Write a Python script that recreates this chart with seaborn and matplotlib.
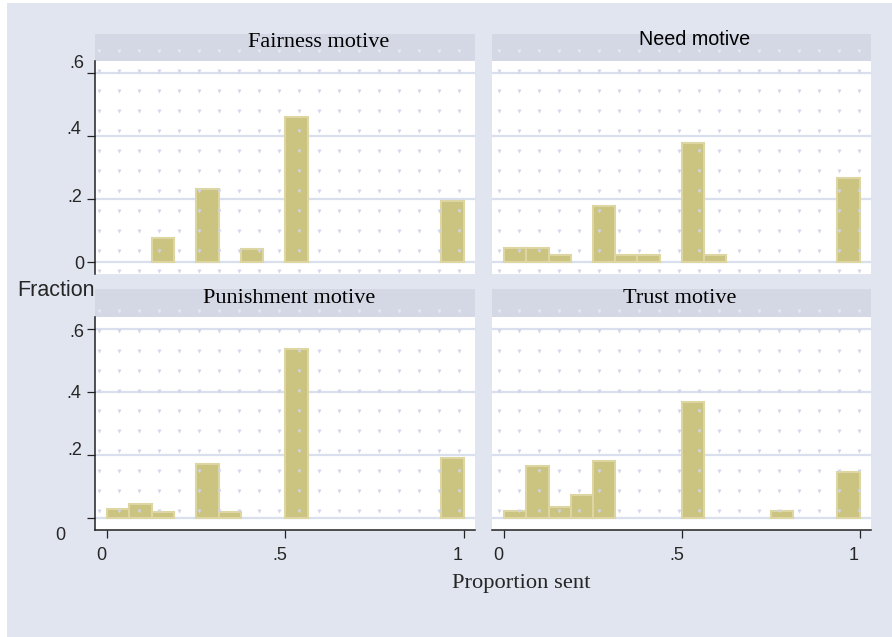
import numpy as np
import pandas as pd
import matplotlib
matplotlib.use("Agg")
import matplotlib.pyplot as plt
import matplotlib.transforms as mtransforms
from matplotlib.patches import Rectangle
import seaborn as sns

# ---------------- data ----------------
bin_edges = [i / 16 for i in range(17)]
motives = ["Fairness motive", "Need motive", "Punishment motive", "Trust motive"]
fairness = [0, 0, 0.076, 0, 0.232, 0, 0.041, 0, 0.462, 0, 0, 0, 0, 0, 0, 0.194]
need = [0.044, 0.044, 0.023, 0, 0.178, 0.023, 0.023, 0, 0.378, 0.023, 0, 0, 0, 0, 0, 0.267]
punishment = [0.029, 0.045, 0.019, 0, 0.173, 0.019, 0, 0, 0.538, 0, 0, 0, 0, 0, 0, 0.189]
trust = [0.021, 0.165, 0.035, 0.074, 0.182, 0, 0, 0, 0.367, 0, 0, 0, 0.021, 0, 0, 0.146]
y_ticks = [0, 0.2, 0.4, 0.6]
y_ticklabels = ["0", ".2", ".4", ".6"]
x_ticks = [0, 0.5, 1]
x_ticklabels = ["0", ".5", "1"]
x_label = "Proportion sent"
y_label = "Fraction"

series = dict(zip(motives, [fairness, need, punishment, trust]))
centers = [(bin_edges[i] + bin_edges[i + 1]) / 2 for i in range(16)]
df = pd.DataFrame(
    [(m, c, v) for m in motives for c, v in zip(centers, series[m])],
    columns=["motive", "center", "fraction"],
)

# ---------------- style ----------------
sns.set_style("white")
plt.rcParams["font.family"] = ["Liberation Sans", "DejaVu Sans"]
SERIF = ["Liberation Serif", "DejaVu Serif"]
SANS = ["Liberation Sans", "DejaVu Sans"]

W, H = 892, 637
DPI = 100
fig = plt.figure(figsize=(W / DPI, H / DPI), dpi=DPI, facecolor="white")

BG = "#e1e5f0"
STRIP = "#d3d8e4"
GRID = "#dadfed"
BAR = "#cbc380"
BAR_EDGE = "#ddd6a2"
DOT = "#d0d4ea"
DOT_STRIP = "#e6e9f3"

fig.patches.append(Rectangle((7 / W, 0), 1 - 7 / W, 1 - 3 / H,
                             transform=fig.transFigure, facecolor=BG,
                             edgecolor="none", zorder=-10))


def rect(x0, y0, x1, y1):
    return [x0 / W, 1 - y1 / H, (x1 - x0) / W, (y1 - y0) / H]


def px_offset(dx, dy):
    return mtransforms.ScaledTranslation(dx / DPI, dy / DPI, fig.dpi_scale_trans)


# faint background pattern (pixel pitch of the reference rendering)
tx = np.arange(99, 892, 20.0)
ty = np.arange(50.7, 637, 20.0)
TX, TY = np.meshgrid(tx, ty)
TX = TX.ravel()
TY = TY.ravel()


def texture(ax, box, color):
    x0, y0, x1, y1 = box
    m = (TX > x0 + 2) & (TX < x1 - 2) & (TY > y0 + 2) & (TY < y1 - 2)
    ax.scatter(TX[m] / W, 1 - TY[m] / H, transform=fig.transFigure, marker="v",
               s=8, c=color, linewidths=0, zorder=5, clip_on=True)


panels = [
    ("Fairness motive", (95, 61, 475, 274), (95, 34, 475, 61), True, False, 0.589, 0.52, SERIF, 16),
    ("Need motive", (492, 61, 871, 274), (492, 34, 871, 61), False, False, 0.534, 0.59, SANS, 14.2),
    ("Punishment motive", (95, 316.7, 475, 530), (95, 289, 475, 316.7), True, True, 0.51, 0.495, SERIF, 16),
    ("Trust motive", (492, 316.7, 871, 530), (492, 289, 871, 316.7), False, True, 0.495, 0.495, SERIF, 16),
]

ytick_offsets_top = {"0": (0, 0), ".2": (-2, 4), ".4": (-3, 9), ".6": (0, 12)}
ytick_offsets_bot = {"0": (-19, -15), ".2": (-2, 6.5), ".4": (-3, 0.7), ".6": (0, -2)}

for motive, prect, srect, is_left, is_bottom, tx_frac, ty_frac, tfam, tsize in panels:
    # strip
    sax = fig.add_axes(rect(*srect))
    sax.set_facecolor(STRIP)
    sax.set_xticks([])
    sax.set_yticks([])
    for sp in sax.spines.values():
        sp.set_visible(False)
    texture(sax, srect, DOT_STRIP)
    sax.text(tx_frac, ty_frac, motive, transform=sax.transAxes, ha="center",
             va="baseline", family=tfam, fontsize=tsize, color="black", zorder=6)

    # plot
    ax = fig.add_axes(rect(*prect))
    ax.set_facecolor("white")
    sub = df[df["motive"] == motive]
    sns.histplot(data=sub, x="center", weights="fraction", bins=bin_edges,
                 stat="count", color=BAR, edgecolor=BAR_EDGE, linewidth=1.5,
                 alpha=1, ax=ax, zorder=2)
    for p in list(ax.patches):
        if p.get_height() == 0:
            p.remove()
    ax.set_xlim(-0.034, 1.032)
    ax.set_ylim(-0.038, 0.639)
    ax.set_xlabel("")
    ax.set_ylabel("")
    ax.set_yticks(y_ticks)
    ax.yaxis.grid(True, color=GRID, linewidth=1.6, zorder=0)
    ax.xaxis.grid(False)
    ax.set_axisbelow(True)
    texture(ax, prect, DOT)

    for name, sp in ax.spines.items():
        sp.set_visible(False)
    if is_left:
        ax.spines["left"].set_visible(True)
        ax.spines["left"].set_color("#222222")
        ax.spines["left"].set_linewidth(1.1)
        ax.set_yticklabels(y_ticklabels)
        ax.tick_params(axis="y", left=True, length=6, width=0.9, color="#222222",
                       pad=1.5, labelsize=13, direction="out")
        offs = ytick_offsets_bot if is_bottom else ytick_offsets_top
        for lab in ax.get_yticklabels():
            dx, dy = offs[lab.get_text()]
            lab.set_transform(lab.get_transform() + px_offset(dx, dy))
    else:
        ax.tick_params(axis="y", left=False, labelleft=False, length=0)

    if is_bottom:
        ax.spines["bottom"].set_visible(True)
        ax.spines["bottom"].set_color("#222222")
        ax.spines["bottom"].set_linewidth(1.1)
        ax.set_xticks(x_ticks)
        ax.set_xticklabels(x_ticklabels)
        ax.tick_params(axis="x", bottom=True, length=6, width=0.9, color="#222222",
                       pad=6, labelsize=13, direction="out")
        for lab in ax.get_xticklabels():
            lab.set_transform(lab.get_transform() + px_offset(-5.5, 0))
    else:
        ax.set_xticks([])

fig.text(56 / W, 1 - 296.5 / H, y_label, ha="center", va="baseline",
         family=SANS, fontsize=15.5)
fig.text(521.5 / W, 1 - 588 / H, x_label, ha="center", va="baseline",
         family=SERIF, fontsize=16.2)

fig.savefig("out.png", dpi=DPI, facecolor="white")
